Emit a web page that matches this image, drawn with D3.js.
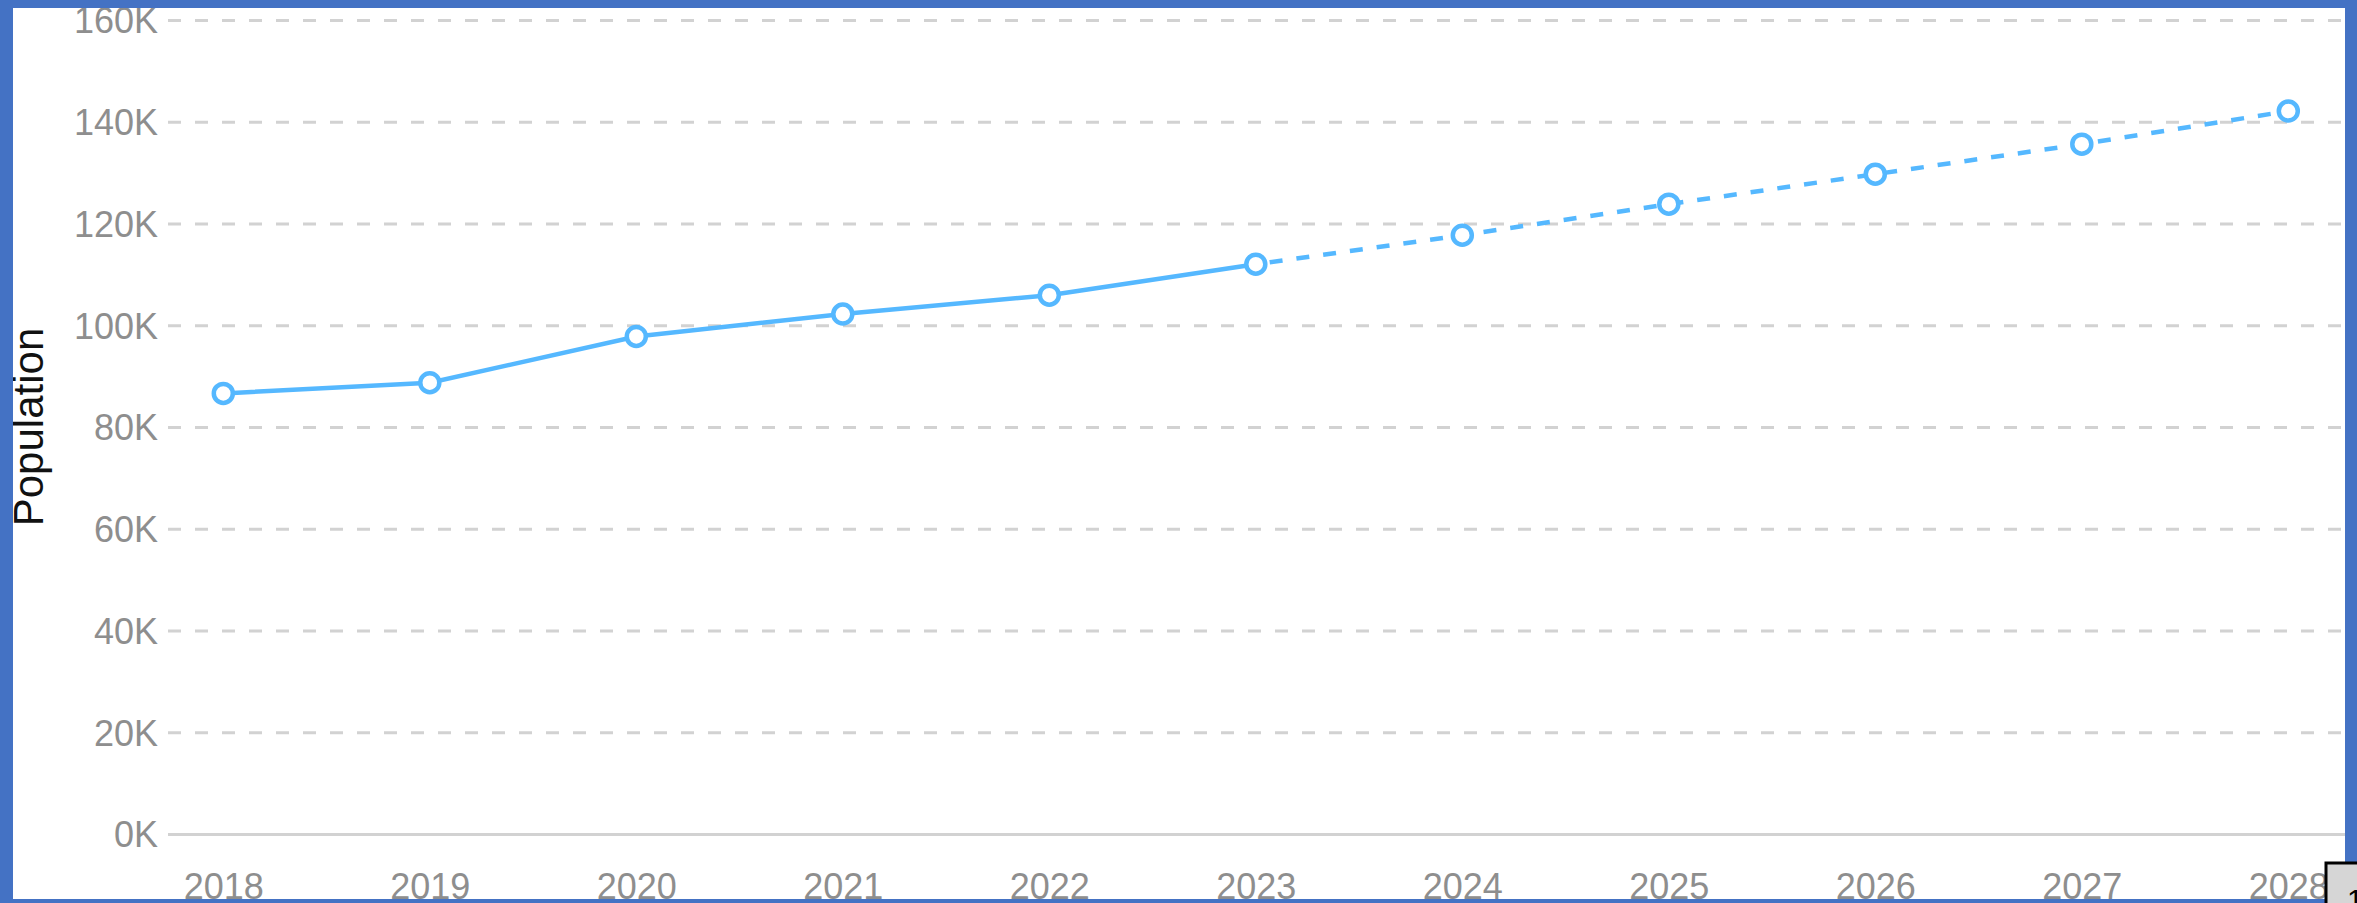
<!DOCTYPE html>
<html>
<head>
<meta charset="utf-8">
<script src="https://cdn.jsdelivr.net/npm/d3@7"></script>
<style>
  html, body { margin: 0; padding: 0; background: #ffffff; }
  svg { display: block; }
  .tick text { font-family: "Liberation Sans", Arial, sans-serif; }
</style>
</head>
<body>
<svg id="chart" width="2357" height="903"></svg>
<script>
// Population by year; values from 2023 onward are projections
const years = [2018, 2019, 2020, 2021, 2022, 2023, 2024, 2025, 2026, 2027, 2028];
const population = [86600, 88700, 97800, 102200, 105900, 112000, 117700, 123800, 129700, 135600, 142100];
const forecastFrom = 2023;
const yTicks = [0, 20000, 40000, 60000, 80000, 100000, 120000, 140000, 160000];
const yLabel = "Population";

const W = 2357, H = 903;
const plotLeft = 168, plotRight = 2357, plotTop = 20, plotBottom = 834;

const svg = d3.select("#chart");
const data = years.map((yr, i) => ({ year: yr, value: population[i] }));

const x = d3.scalePoint().domain(years).range([223.3, 2288.3]);
const y = d3.scaleLinear().domain([0, 160000]).range([plotBottom, plotTop]);

// Horizontal grid with value labels
const yAxis = svg.append("g")
  .attr("transform", `translate(${plotLeft},0)`)
  .call(d3.axisLeft(y)
    .tickValues(yTicks)
    .tickSize(-(plotRight - plotLeft))
    .tickPadding(10)
    .tickFormat(d => (d / 1000) + "K"));
yAxis.select(".domain").remove();
yAxis.selectAll(".tick line")
  .attr("stroke", "#d2d2d2")
  .attr("stroke-width", 3)
  .attr("stroke-dasharray", d => d === 0 ? null : "13,14");
yAxis.selectAll(".tick text")
  .attr("fill", "#8e8e8e")
  .attr("font-size", 36)
  .attr("dy", "0.36em");

// Year labels along the bottom
const xAxis = svg.append("g")
  .attr("transform", `translate(0,${plotBottom})`)
  .call(d3.axisBottom(x).tickSize(0).tickFormat(d => String(d)));
xAxis.select(".domain").remove();
xAxis.selectAll(".tick text")
  .attr("fill", "#8e8e8e")
  .attr("font-size", 36)
  .attr("y", 65)
  .attr("dy", 0);

// Axis title
svg.append("text")
  .attr("transform", `translate(43,427) rotate(-90)`)
  .attr("text-anchor", "middle")
  .attr("font-family", "'Liberation Sans', Arial, sans-serif")
  .attr("font-size", 42)
  .attr("fill", "#111")
  .text(yLabel);

const lineColor = "#55b8ff";
const line = d3.line().x(d => x(d.year)).y(d => y(d.value));

// Recorded values: solid line
svg.append("path")
  .datum(data.filter(d => d.year <= forecastFrom))
  .attr("d", line)
  .attr("fill", "none")
  .attr("stroke", lineColor)
  .attr("stroke-width", 4.5);

// Projected values: dashed line
svg.append("path")
  .datum(data.filter(d => d.year >= forecastFrom))
  .attr("d", line)
  .attr("fill", "none")
  .attr("stroke", lineColor)
  .attr("stroke-width", 4.5)
  .attr("stroke-dasharray", "13,14")
  .attr("stroke-dashoffset", -14);

// Point markers
svg.append("g")
  .selectAll("circle")
  .data(data)
  .join("circle")
  .attr("cx", d => x(d.year))
  .attr("cy", d => y(d.value))
  .attr("r", 9.5)
  .attr("fill", "#ffffff")
  .attr("stroke", lineColor)
  .attr("stroke-width", 4.5);

// Frame around the view
const frame = "#4472c4";
svg.append("rect").attr("x", 0).attr("y", 0).attr("width", 13).attr("height", H).attr("fill", frame);
svg.append("rect").attr("x", 0).attr("y", 0).attr("width", W).attr("height", 8).attr("fill", frame);
svg.append("rect").attr("x", 2345).attr("y", 0).attr("width", 12).attr("height", H).attr("fill", frame);
svg.append("rect").attr("x", 0).attr("y", 899).attr("width", W).attr("height", 4).attr("fill", frame);

// Page indicator box in the corner
svg.append("rect")
  .attr("x", 2326).attr("y", 863).attr("width", 40).attr("height", 50)
  .attr("fill", "#d6d6d6").attr("stroke", "#000").attr("stroke-width", 3);
svg.append("text")
  .attr("x", 2347).attr("y", 910)
  .attr("font-family", "'Liberation Sans', Arial, sans-serif")
  .attr("font-size", 30)
  .attr("fill", "#000")
  .text("1");
</script>
</body>
</html>
